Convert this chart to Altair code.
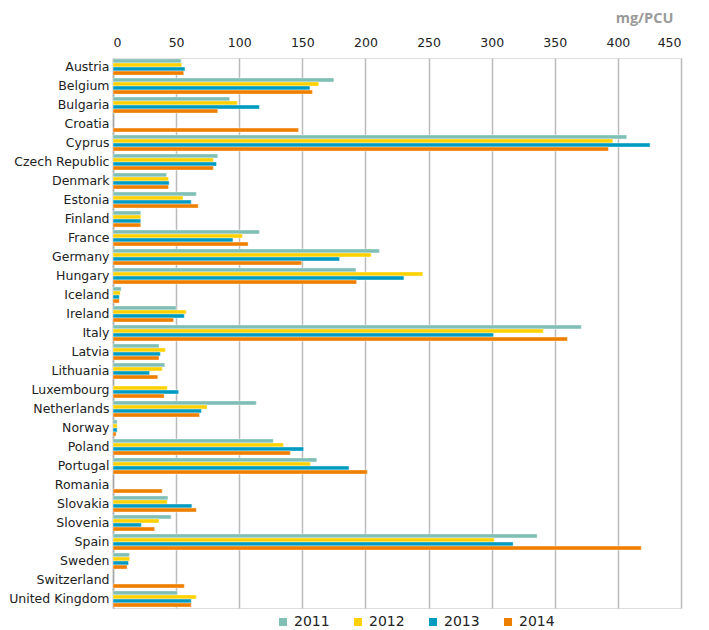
import altair as alt
import pandas as pd

countries = ["Austria", "Belgium", "Bulgaria", "Croatia", "Cyprus", "Czech Republic", "Denmark",
             "Estonia", "Finland", "France", "Germany", "Hungary", "Iceland", "Ireland", "Italy",
             "Latvia", "Lithuania", "Luxembourg", "Netherlands", "Norway", "Poland", "Portugal",
             "Romania", "Slovakia", "Slovenia", "Spain", "Sweden", "Switzerland", "United Kingdom"]

years = ["2011", "2012", "2013", "2014"]

v2011 = [54, 175, 92.5, None, 407, 83, 42.5, 66, 22, 116, 211, 192.5, 6.5, 50, 371,
         36.5, 41, None, 113.5, 3.3, 127, 161.5, None, 43.5, 46, 336, 13, None, 51]
v2012 = [54.5, 163, 98.5, None, 396, 79.5, 44, 55.5, 22, 102.5, 204.5, 245.5, 5.7, 58, 341,
         41.5, 39, 43, 74.5, 3.3, 135, 156.5, None, 43, 36.5, 302, 13.3, None, 66]
v2013 = [57, 156, 116, None, 425.5, 82, 44.5, 62, 22, 95, 179.5, 230.5, 5, 56.5, 301.5,
         37.5, 29, 52, 70, 3.3, 151, 187, None, 62.5, 22.5, 317, 12.3, None, 62]
v2014 = [56, 158, 83, 147, 392.5, 79.5, 44, 67.5, 22, 107, 149.5, 193, 5, 48, 360,
         36.5, 35.5, 40.5, 68.5, 2.5, 140.5, 201.5, 39, 66, 33, 418.5, 11.2, 56.5, 62]

colors = ["#80BFB5", "#FFD100", "#009BC0", "#EF7F00"]

rows = []
for yr, vals in zip(years, [v2011, v2012, v2013, v2014]):
    for c, v in zip(countries, vals):
        if v is not None:
            rows.append({"country": c, "year": yr, "value": v})
df = pd.DataFrame(rows)

font = "DejaVu Sans"

chart = alt.Chart(df).mark_bar(stroke="white", strokeWidth=0.4).encode(
    y=alt.Y("country:N", sort=countries, title=None,
            scale=alt.Scale(paddingInner=0.15, paddingOuter=0.05),
            axis=alt.Axis(labelFontSize=12.5, labelColor="#222222", labelPadding=4,
                          ticks=False, domainColor="#A6A6A6", domainWidth=1.5,
                          labelFont=font)),
    yOffset=alt.YOffset("year:N", sort=years),
    x=alt.X("value:Q", title="mg/PCU",
            scale=alt.Scale(domain=[0, 450], nice=False),
            axis=alt.Axis(orient="top", values=list(range(0, 451, 50)), labelFontSize=12.5,
                          labelColor="#222222", labelFont=font, ticks=False, domain=False,
                          gridColor="#BBBBBB", gridWidth=1.5, labelPadding=9,
                          titleFont="Open Sans", titleFontSize=14.5, titleColor="#9A9A9A",
                          titleFontWeight="bold", titleX=531, titleY=-40,
                          titleAlign="center", titleBaseline="middle")),
    color=alt.Color("year:N", sort=years,
                    scale=alt.Scale(domain=years, range=colors),
                    legend=alt.Legend(title=None, orient="none", direction="horizontal",
                                      legendX=163, legendY=557, symbolType="square",
                                      symbolSize=64, symbolStrokeWidth=0,
                                      labelFontSize=14, labelFont=font,
                                      labelColor="#222222", columnPadding=21,
                                      labelOffset=4)),
).properties(
    width=568, height=550,
    padding={"left": 0, "top": 2, "right": 5, "bottom": 2}
).configure_view(
    stroke="#A6A6A6", strokeWidth=1.5
).configure(background="white")

chart.save("out.html", embed_options={"renderer": "svg", "actions": False})
